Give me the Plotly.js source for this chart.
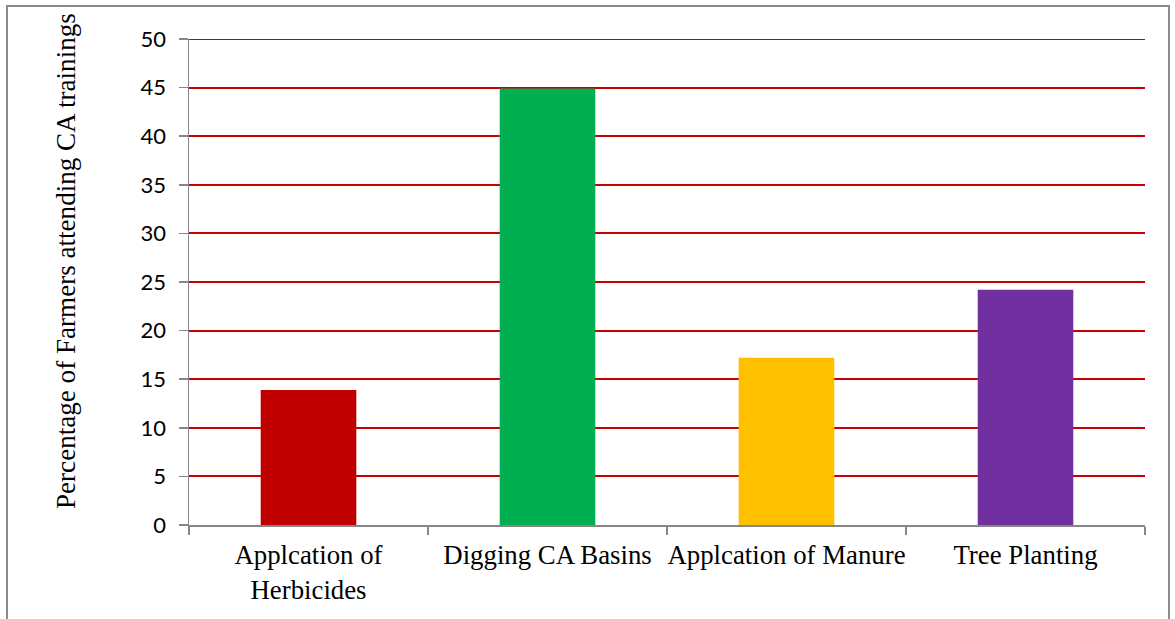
<!DOCTYPE html>
<html>
<head>
<meta charset="utf-8">
<script src="https://cdn.plot.ly/plotly-3.0.1.min.js"></script>
<style>
html,body{margin:0;padding:0;background:#fff;}
#frame{position:absolute;left:6px;top:5px;width:1164px;height:640px;border:2px solid #8c8c8c;box-sizing:border-box;}
#chart{position:absolute;left:0;top:0;width:1175px;height:619px;}
</style>
</head>
<body>
<div id="frame"></div>
<div id="chart"></div>
<script>
const categories = ["Applcation of<br>Herbicides", "Digging CA Basins", "Applcation of Manure", "Tree Planting"];
const values = [13.9, 44.9, 17.2, 24.2];
const barColors = ["#C00000", "#00B050", "#FFC000", "#7030A0"];
const yTicks = [0, 5, 10, 15, 20, 25, 30, 35, 40, 45, 50];
const yTitle = "Percentage of Farmers attending CA trainings";

const trace = {
  type: "bar",
  x: categories,
  y: values,
  marker: {color: barColors, line: {width: 0}},
  width: 0.4,
  hoverinfo: "x+y"
};

const yMax = yTicks[yTicks.length - 1];

const layout = {
  width: 1175,
  height: 619,
  margin: {l: 189, r: 30, t: 39, b: 94},
  paper_bgcolor: "rgba(0,0,0,0)",
  plot_bgcolor: "rgba(0,0,0,0)",
  showlegend: false,
  xaxis: {
    type: "category",
    tickson: "boundaries",
    tickangle: 0,
    ticks: "outside",
    ticklen: 8,
    tickwidth: 1.5,
    tickcolor: "#868686",
    showline: true,
    linecolor: "#868686",
    linewidth: 1.5,
    showgrid: false,
    tickfont: {family: "Liberation Serif, Times New Roman, serif", size: 26.8, color: "#000"},
    ticklabelstandoff: 5
  },
  yaxis: {
    range: [0, yMax],
    tickvals: yTicks,
    ticktext: yTicks.map(String),
    ticks: "outside",
    ticklen: 9,
    tickwidth: 1.5,
    tickcolor: "#868686",
    showline: true,
    linecolor: "#868686",
    linewidth: 1.5,
    showgrid: true,
    gridcolor: "#C80000",
    gridwidth: 2,
    zeroline: false,
    tickfont: {family: "Lato, Open Sans, sans-serif", size: 22, color: "#000"},
    ticklabelstandoff: 8
  },
  shapes: [{
    type: "line", xref: "paper", yref: "y",
    x0: 0, x1: 1, y0: yMax, y1: yMax,
    line: {color: "#C80000", width: 2},
    layer: "below"
  }],
  annotations: [{
    text: yTitle,
    xref: "paper", yref: "paper",
    x: (66 - 189) / 956, y: (525 - 261) / 486,
    xanchor: "center", yanchor: "middle",
    textangle: -90,
    showarrow: false,
    font: {family: "Liberation Serif, Times New Roman, serif", size: 27.1, color: "#000"}
  }]
};

Plotly.newPlot("chart", [trace], layout, {displayModeBar: false, staticPlot: true});
</script>
</body>
</html>
